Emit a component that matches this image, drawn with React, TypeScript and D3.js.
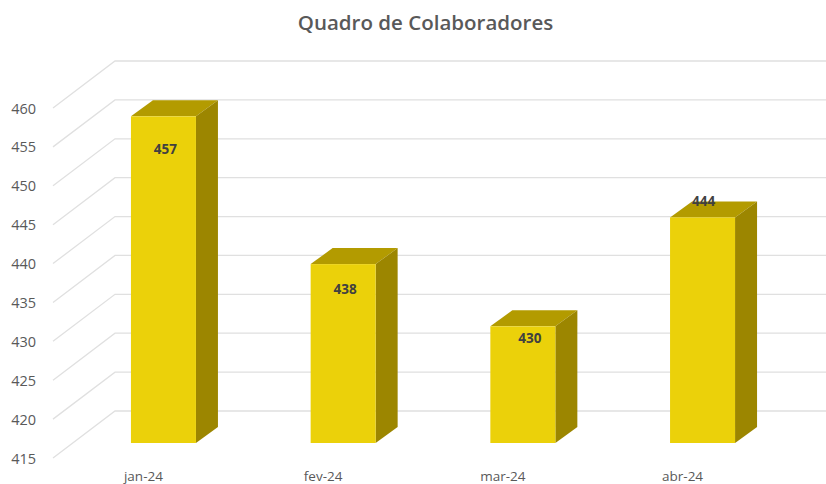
import React from "react";
import * as d3 from "d3";

const categories = ["jan-24", "fev-24", "mar-24", "abr-24"];
const values = [457, 438, 430, 444];
const yTicks = [415, 420, 425, 430, 435, 440, 445, 450, 455, 460];

const width = 826;
const height = 484;
const font = "'Open Sans', sans-serif";

// Excel style 3D: wall depth and bar depth
const wallDx = 62;
const wallDy = -47;
const barDx = 22;
const barDy = -16;

// data label nudges as placed in the original chart
const labelDx = [2, 2, 7, 1];
const labelDy = [33, 25, 12, -16];

const App = () => {
  const x = d3.scaleBand().domain(categories).range([73.6, 792.4]);
  const barWidth = 65;

  // y on the front edge of the floor
  const yFront = d3.scaleLinear().domain([415, 460]).range([458, 108]);
  // y on the plane the bars stand on
  const yBar = (v: number) => yFront(v) + barDy + 1;

  const poly = (pts: [number, number][]) => d3.line()(pts) + "Z";

  return (
    <svg
      width={width}
      height={height}
      style={{ position: "absolute", left: 0, top: 0, background: "#fff" }}
    >
      <text
        x={425.5}
        y={30}
        textAnchor="middle"
        fontFamily={font}
        fontSize={20.5}
        fontWeight={600}
        fill="#595959"
      >
        Quadro de Colaboradores
      </text>

      {yTicks.map((t) => (
        <g key={t}>
          <path
            d={
              d3.line()([
                [53, yFront(t)],
                [53 + wallDx, yFront(t) + wallDy],
                [width, yFront(t) + wallDy],
              ]) || ""
            }
            fill="none"
            stroke="#e0e0e0"
            strokeWidth={1.3}
          />
          <text
            x={36}
            y={yFront(t) + 5.5}
            textAnchor="end"
            fontFamily={font}
            fontSize={14.5}
            fill="#595959"
          >
            {t}
          </text>
        </g>
      ))}

      {categories.map((c, i) => {
        const x0 = (x(c) as number) + (x.bandwidth() - barWidth) / 2;
        const x1 = x0 + barWidth;
        const top = yBar(values[i]);
        const bottom = yBar(415);
        return (
          <g key={c}>
            <path
              d={poly([
                [x0, top],
                [x0 + barDx, top + barDy],
                [x1 + barDx, top + barDy],
                [x1, top],
              ])}
              fill="#b39b00"
            />
            <path
              d={poly([
                [x1, top],
                [x1 + barDx, top + barDy],
                [x1 + barDx, bottom + barDy],
                [x1, bottom],
              ])}
              fill="#9c8600"
            />
            <rect x={x0} y={top} width={barWidth} height={bottom - top} fill="#ebd10a" />
            <text
              x={x0 + barWidth / 2 + labelDx[i]}
              y={top + labelDy[i] + 5}
              textAnchor="middle"
              fontFamily={font}
              fontSize={13.5}
              fontWeight={700}
              fill="#404040"
            >
              {values[i]}
            </text>
            <text
              x={x0 + barWidth / 2 - 20}
              y={481}
              textAnchor="middle"
              fontFamily={font}
              fontSize={13.5}
              fill="#595959"
            >
              {c}
            </text>
          </g>
        );
      })}
    </svg>
  );
};

export default App;
